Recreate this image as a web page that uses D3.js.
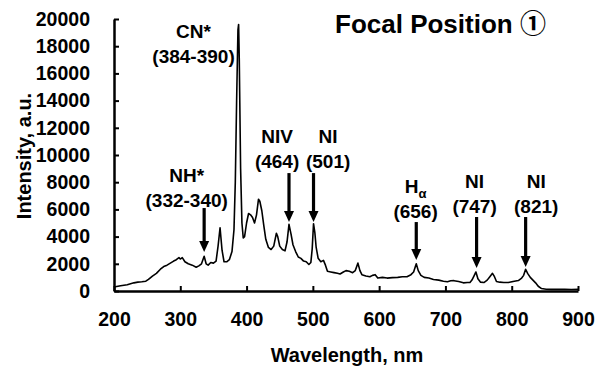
<!DOCTYPE html>
<html>
<head>
<meta charset="utf-8">
<script src="https://cdn.jsdelivr.net/npm/d3@7"></script>
<style>
  html, body { margin: 0; padding: 0; background: #fff; }
  svg text { font-family: "Liberation Sans", Arial, "Noto Sans CJK JP", sans-serif; font-weight: bold; fill: #000; }
</style>
</head>
<body>
<div id="chart"></div>
<script>
// spectrum
var wavelength = [200, 210, 220, 230, 236, 242, 248, 252, 258, 264, 270, 275, 280, 285, 290, 294, 298, 300, 303, 307,
  312, 318, 324, 328, 332, 336, 339, 342, 346, 350, 354, 357, 360, 363, 366, 370, 374, 378, 381, 383,
  385, 387, 388, 389, 391, 393, 395, 397, 400, 403, 406, 409, 412, 415, 418, 420, 423, 426, 429, 433,
  437, 441, 445, 447, 450, 454, 458, 461, 464, 467, 470, 474, 478, 482, 486, 490, 494, 497, 499, 501,
  503, 505, 508, 512, 516, 519, 522, 527, 532, 537, 541, 546, 550, 555, 560, 564, 568, 571, 574, 580,
  586, 590, 594, 598, 605, 612, 620, 628, 635, 642, 648, 652, 656, 659, 663, 668, 675, 682, 690, 697,
  703, 708, 713, 720, 727, 733, 737, 740, 743, 746, 749, 753, 758, 763, 767, 771, 774, 777, 782, 788,
  795, 802, 810, 815, 818, 821, 824, 828, 832, 836, 840, 845, 852, 860, 870, 880, 890, 900];
var intensity = [300, 380, 460, 600, 650, 680, 720, 860, 1100, 1300, 1600, 1800, 1900, 2050, 2200, 2300, 2450, 2350, 2450, 2150,
  2000, 1900, 1750, 1850, 2000, 2550, 2000, 1900, 2100, 2050, 2200, 3300, 4650, 3000, 2150, 2150, 2300, 2900, 4500, 8000,
  14000, 19200, 19600, 17000, 9000, 5000, 3900, 4000, 5000, 5700, 5600, 5400, 5000, 5600, 6750, 6600, 5900, 4800, 3800, 3200,
  3050, 3300, 4250, 4000, 3300, 3050, 2950, 3600, 4900, 4200, 3400, 2900, 2500, 2400, 2200, 2150, 1950, 2100, 3100, 4950,
  4300, 3200, 2400, 2150, 2250, 1900, 1450, 1400, 1350, 1300, 1250, 1400, 1500, 1450, 1350, 1500, 2050, 1500, 1200, 1100,
  1050, 1150, 1200, 950, 1000, 950, 980, 1000, 1050, 1050, 1200, 1400, 2000, 1500, 1150, 1000, 950, 850, 800, 720,
  680, 750, 760, 700, 600, 620, 620, 800, 1100, 1400, 900, 650, 620, 800, 1050, 1300, 1050, 700, 650, 620,
  620, 700, 770, 950, 1150, 1600, 1300, 1000, 800, 600, 350, 180, 130, 120, 130, 120, 110, 120];

var xTicks = [200, 300, 400, 500, 600, 700, 800, 900];
var yTicks = [0, 2000, 4000, 6000, 8000, 10000, 12000, 14000, 16000, 18000, 20000];

// annotations: species, wavelength range, label anchor (nm, intensity), arrow (nm, tail, tip)
var species = ["CN*", "NH*", "NIV", "NI", "H", "NI", "NI"];
var ranges = ["(384-390)", "(332-340)", "(464)", "(501)", "(656)", "(747)", "(821)"];
var labelWl = [320, 309.7, 446, 523, 655, 744, 837];
var labelI = [18600, 8000, 10880, 10880, 7200, 7570, 7570];
var arrowWl = [null, 336, 464, 501, 656, 747, 821];
var arrowTail = [null, 6100, 8670, 8670, 5070, 5440, 5440];
var arrowTip = [null, 2870, 5070, 5070, 2280, 1690, 1760];

var width = 595, height = 370;

var x = d3.scaleLinear().domain([200, 900]).range([114, 578]);
var y = d3.scaleLinear().domain([0, 20000]).range([291, 19]);

var svg = d3.select("#chart").append("svg")
    .attr("width", width)
    .attr("height", height);

// spectrum
var line = d3.line()
    .x(function(d, i) { return x(wavelength[i]); })
    .y(function(d) { return y(d); });

svg.append("path")
    .datum(intensity)
    .attr("d", line)
    .attr("fill", "none")
    .attr("stroke", "#000")
    .attr("stroke-width", 1.6)
    .attr("stroke-linejoin", "round");

// axes
var xAxis = svg.append("g")
    .attr("transform", "translate(0," + y(0) + ")")
    .call(d3.axisBottom(x).tickValues(xTicks).tickFormat(d3.format("d"))
      .tickSizeInner(-5).tickSizeOuter(0).tickPadding(21));

var yAxis = svg.append("g")
    .attr("transform", "translate(" + x(200) + ",0)")
    .call(d3.axisLeft(y).tickValues(yTicks).tickFormat(d3.format("d"))
      .tickSizeInner(-5).tickSizeOuter(0).tickPadding(24));

[xAxis, yAxis].forEach(function(g) {
  g.select(".domain").attr("stroke", "#000").attr("stroke-width", 2.5);
  g.selectAll(".tick line").attr("stroke", "#000").attr("stroke-width", 2);
  g.selectAll(".tick text")
    .style("font-size", "19.5px")
    .attr("fill", "#000");
});

svg.append("text")
    .attr("x", 347)
    .attr("y", 362)
    .attr("text-anchor", "middle")
    .style("font-size", "20px")
    .text("Wavelength, nm");

svg.append("text")
    .attr("transform", "translate(31," + 156 + ") rotate(-90)")
    .attr("text-anchor", "middle")
    .style("font-size", "20px")
    .text("Intensity, a.u.");

svg.append("text")
    .attr("x", 335)
    .attr("y", 33)
    .style("font-size", "26px")
    .text("Focal Position ①");

// labels
var ann = svg.append("g").attr("class", "annotations");

species.forEach(function(s, i) {
  var cx = x(labelWl[i]), by = y(labelI[i]);
  var t = ann.append("text")
      .attr("x", cx)
      .attr("y", by)
      .attr("text-anchor", "middle")
      .style("font-size", "19px");
  t.append("tspan").text(s);
  if (s === "H") {
    t.append("tspan")
      .attr("dy", 5)
      .style("font-size", "13px")
      .text("α");
  }
  ann.append("text")
      .attr("x", cx)
      .attr("y", by + 25)
      .attr("text-anchor", "middle")
      .style("font-size", "19px")
      .text(ranges[i]);

  if (arrowWl[i] === null) return;
  var ax = x(arrowWl[i]), y0 = y(arrowTail[i]), y1 = y(arrowTip[i]);
  ann.append("line")
      .attr("x1", ax).attr("x2", ax)
      .attr("y1", y0).attr("y2", y1 - 8)
      .attr("stroke", "#000")
      .attr("stroke-width", 3.2);
  ann.append("path")
      .attr("d", "M" + (ax - 5) + "," + (y1 - 11) + "L" + (ax + 5) + "," + (y1 - 11) + "L" + ax + "," + y1 + "Z")
      .attr("fill", "#000");
});
</script>
</body>
</html>
